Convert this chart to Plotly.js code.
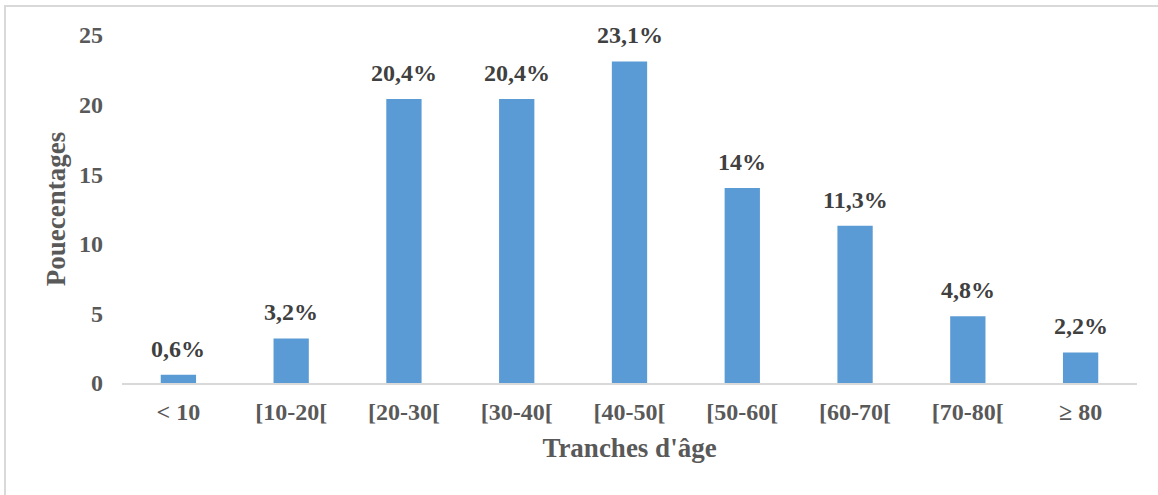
<!DOCTYPE html>
<html>
<head>
<meta charset="utf-8">
<script src="https://cdn.plot.ly/plotly-3.0.1.min.js"></script>
<style>
  html, body { margin: 0; padding: 0; background: #ffffff; }
  #wrap { position: relative; width: 1158px; height: 495px; overflow: hidden; }
  #frame { position: absolute; left: 4px; top: 5px; width: 1170px; height: 510px;
           border: 2px solid #d9d9d9; box-sizing: border-box; }
  #chart { position: absolute; left: 0; top: 0; width: 1158px; height: 495px; }
</style>
</head>
<body>
<div id="wrap">
  <div id="frame"></div>
  <div id="chart"></div>
</div>
<script>
// Age groups and share of patients (%)
const ageGroups = ['< 10', '[10-20[', '[20-30[', '[30-40[', '[40-50[', '[50-60[', '[60-70[', '[70-80[', '≥ 80'];
const percentages = [0.6, 3.2, 20.4, 20.4, 23.1, 14, 11.3, 4.8, 2.2];
const valueLabels = ['0,6%', '3,2%', '20,4%', '20,4%', '23,1%', '14%', '11,3%', '4,8%', '2,2%'];
const yTicks = [0, 5, 10, 15, 20, 25];

const serif = '"Liberation Serif", "Times New Roman", serif';

const trace = {
  type: 'bar',
  x: ageGroups,
  y: percentages,
  marker: { color: '#5b9bd5' },
  hoverinfo: 'skip'
};

// value labels sit above each bar, positioned from the bar's own value
const annotations = ageGroups.map((g, i) => ({
  x: g,
  y: percentages[i],
  xref: 'x',
  yref: 'y',
  text: valueLabels[i],
  showarrow: false,
  yanchor: 'bottom',
  yshift: 11,
  font: { family: serif, size: 24, color: '#404040', weight: 'bold' }
}));

const layout = {
  width: 1158,
  height: 495,
  paper_bgcolor: 'rgba(0,0,0,0)',
  plot_bgcolor: 'rgba(0,0,0,0)',
  margin: { l: 122, r: 21, t: 35, b: 112 },
  showlegend: false,
  bargap: 0.687,
  font: { family: serif, color: '#595959' },
  xaxis: {
    type: 'category',
    showgrid: false,
    zeroline: false,
    showline: true,
    linecolor: '#d9d9d9',
    linewidth: 2,
    ticks: '',
    ticklabelstandoff: 6,
    tickfont: { family: serif, size: 24, color: '#595959', weight: 'bold' },
    title: {
      text: "Tranches d'âge",
      font: { family: serif, size: 27, color: '#595959', weight: 'bold' },
      standoff: 14
    }
  },
  yaxis: {
    range: [0, 25],
    tickvals: yTicks,
    ticktext: yTicks.map(String),
    showgrid: false,
    zeroline: false,
    showline: false,
    ticks: '',
    ticklabelstandoff: 18,
    tickfont: { family: serif, size: 24, color: '#595959', weight: 'bold' },
    title: {
      text: 'Pouecentages',
      font: { family: serif, size: 27, color: '#595959', weight: 'bold' },
      standoff: 5
    }
  },
  annotations: annotations
};

Plotly.newPlot('chart', [trace], layout, { displayModeBar: false, staticPlot: true });
</script>
</body>
</html>
